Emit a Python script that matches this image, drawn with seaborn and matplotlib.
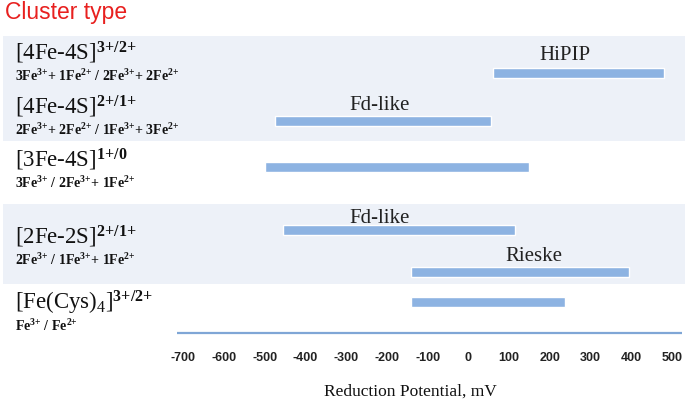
import numpy as np
import matplotlib
matplotlib.use("Agg")
import matplotlib.pyplot as plt
import matplotlib.transforms as mtransforms
import seaborn as sns

# --- data ---
clusters = [r"[4Fe-4S]$^{\mathbf{3{+}/2{+}}}$",
            r"[4Fe-4S]$^{\mathbf{2{+}/1{+}}}$",
            r"[3Fe-4S]$^{\mathbf{1{+}/0}}$",
            r"[2Fe-2S]$^{\mathbf{2{+}/1{+}}}$",
            r"[Fe(Cys)$_4$]$^{\mathbf{3{+}/2{+}}}$"]
states = [r"3Fe$^{\mathbf{3{+}}}$+ 1Fe$^{\mathbf{2{+}}}$ / 2Fe$^{\mathbf{3{+}}}$+ 2Fe$^{\mathbf{2{+}}}$",
          r"2Fe$^{\mathbf{3{+}}}$+ 2Fe$^{\mathbf{2{+}}}$ / 1Fe$^{\mathbf{3{+}}}$+ 3Fe$^{\mathbf{2{+}}}$",
          r"3Fe$^{\mathbf{3{+}}}$ / 2Fe$^{\mathbf{3{+}}}$+ 1Fe$^{\mathbf{2{+}}}$",
          r"2Fe$^{\mathbf{3{+}}}$ / 1Fe$^{\mathbf{3{+}}}$+ 1Fe$^{\mathbf{2{+}}}$",
          r"Fe$^{\mathbf{3{+}}}$ / Fe$^{\mathbf{2{+}}}$"]
cluster_y = [0.77, 2.57, 4.33, 6.9, 9.1]

# ranges (mV)
range_start = [60, -475, -500, -455, -140, -140]
range_end = [480, 55, 150, 115, 395, 238]
range_y = [1.47, 3.07, 4.6, 6.7, 8.1, 9.1]

range_names = ["HiPIP", "Fd-like", "Fd-like", "Rieske"]
name_x = [238, -219, -219, 162]
name_y = [0.83, 2.5, 6.27, 7.53]

ticks = list(range(-700, 501, 100))
bands = [(0.23, 3.73), (5.83, 8.5)]

# --- plotting ---
sns.set_theme(style="white")
plt.rcParams["mathtext.fontset"] = "custom"
plt.rcParams["mathtext.rm"] = "Liberation Serif"
plt.rcParams["mathtext.bf"] = "Liberation Serif:bold"
plt.rcParams["mathtext.it"] = "Liberation Serif:italic"

bar_color = "#8DB3E2"
band_color = "#EDF1F8"

fig = plt.figure(figsize=(6.85, 4.02), dpi=100)
ax = fig.add_axes([0, 0.169, 1, 0.756])
ax.set_xlim(-1150, 532)
ax.set_ylim(10.13, 0)

for b0, b1 in bands:
    ax.axhspan(b0, b1, xmin=0.005, xmax=1, color=band_color, lw=0, zorder=0)

ax.barh(range_y, np.array(range_end) - np.array(range_start), left=range_start,
        height=0.32, color=bar_color, zorder=2)
for nm, nx, ny in zip(range_names, name_x, name_y):
    ax.text(nx, ny, nm, ha="center", va="center", fontsize=15,
            family="Liberation Serif", color="#222222")

# baseline axis
ax.hlines(10.13, -715, 525, color="#7FA6D6", lw=1.6, clip_on=False, zorder=3)

trans = mtransforms.blended_transform_factory(ax.transAxes, ax.transData)
for lab, st, cy in zip(clusters, states, cluster_y):
    ax.text(0.022, cy, lab, transform=trans, ha="left", va="center",
            fontsize=16.5, family="Liberation Serif", color="#111111")
    ax.text(0.022, cy + 0.76, st, transform=trans, ha="left", va="center",
            fontsize=10, family="Liberation Serif", fontweight="bold", color="#111111")

ax.set_xticks(ticks)
ax.set_xticklabels([str(t) for t in ticks], fontsize=9, fontweight="bold",
                   family="Liberation Sans", color="#222222")
ax.tick_params(axis="x", length=0, pad=13)
ax.set_yticks([])
for s in ax.spines.values():
    s.set_visible(False)
ax.patch.set_alpha(0)

ax.set_xlabel("Reduction Potential, mV", fontsize=12.5, family="Liberation Serif",
              color="#111111")
ax.xaxis.set_label_coords(0.599, -0.163)

fig.text(0.007, 0.97, "Cluster type", color="#E8201F", fontsize=16.5,
         family="Liberation Sans", ha="left", va="center")

fig.savefig("out.png", dpi=100, facecolor="white")
